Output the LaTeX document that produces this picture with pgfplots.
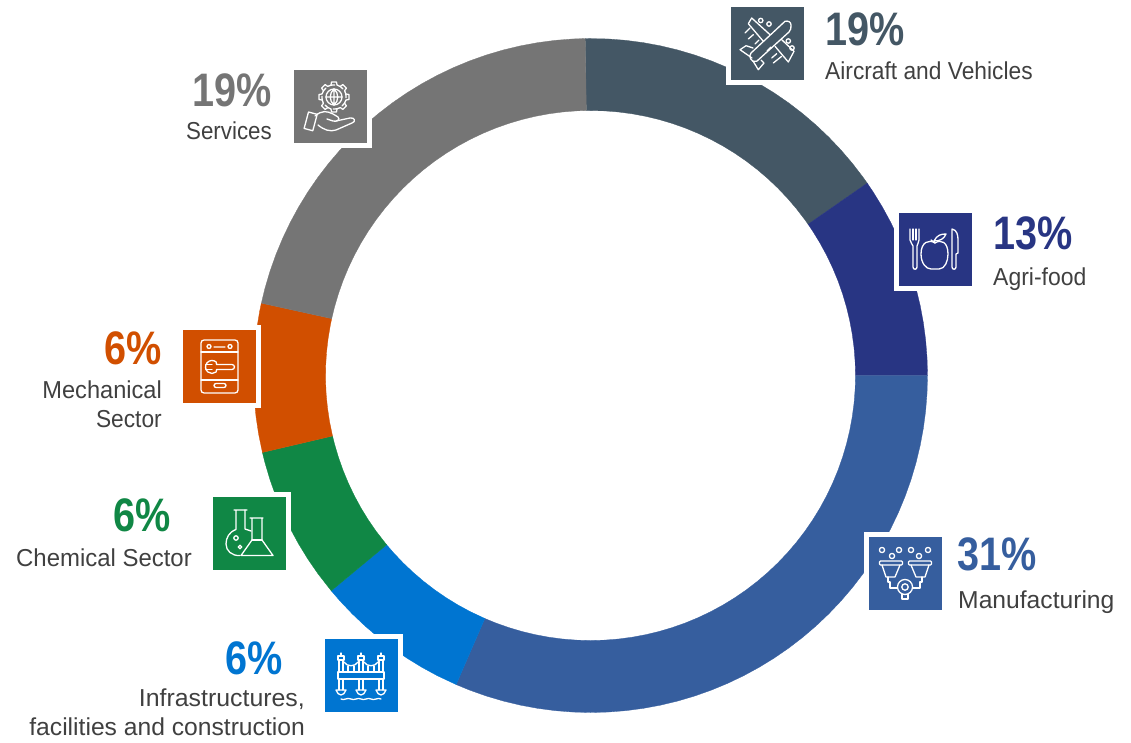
\documentclass[border=0pt]{standalone}
\usepackage{graphicx}
\usepackage{fontspec}
\setmainfont{Liberation Sans}[FakeStretch=0.86]
\usepackage{pgfplots}
\usepgfplotslibrary{polar}
\pgfplotsset{compat=1.18}
\definecolor{cAir}{HTML}{445765}
\definecolor{cAgr}{HTML}{283583}
\definecolor{cMan}{HTML}{365E9E}
\definecolor{cInf}{HTML}{0075D1}
\definecolor{cChe}{HTML}{108745}
\definecolor{cMec}{HTML}{D14F00}
\definecolor{cSer}{HTML}{757575}
\definecolor{cTxt}{HTML}{404040}
\newcommand{\pct}[5]{\node[anchor=#1,inner sep=0pt,text=#2,font=\fontsize{47}{50}\selectfont\bfseries] at (#3,#4) {\scalebox{0.98}[1]{#5}};}
\newcommand{\lab}[5]{\node[anchor=#1,inner sep=0pt,text=cTxt,font=\fontsize{24.5}{28}\selectfont] at (#2,#3) {\scalebox{#5}[1]{#4}};}
\newcommand{\icon}[4]{%
  \fill[white] (#1-5,#2-5) rectangle (#1+78,#2+78);
  \fill[#3] (#1,#2) rectangle (#1+73,#2+73);
  \begin{scope}[shift={(#1,#2)},draw=white,line width=1.3pt,line cap=round,line join=round]#4\end{scope}}
\begin{document}
\begin{tikzpicture}[x=1pt,y=1pt]
\useasboundingbox (0,0) rectangle (1131,742);
\begin{polaraxis}[at={(590.5pt,366.5pt)},anchor=center,scale only axis,width=674pt,height=674pt,
  xmin=0,xmax=360,ymin=0,ymax=337,hide axis,clip=false]
\addplot[fill=cAir,draw=cAir,line width=.3pt] coordinates {(90.9,337)(87,337)(84,337)(81,337)(78,337)(75,337)(72,337)(69,337)(66,337)(63,337)(60,337)(57,337)(54,337)(51,337)(48,337)(45,337)(42,337)(39,337)(36,337)(34.8,337)
(34.8,265)(36,265)(39,265)(42,265)(45,265)(48,265)(51,265)(54,265)(57,265)(60,265)(63,265)(66,265)(69,265)(72,265)(75,265)(78,265)(81,265)(84,265)(87,265)(90.9,265)} --cycle;
\addplot[fill=cAgr,draw=cAgr,line width=.3pt] coordinates {(34.8,337)(33,337)(30,337)(27,337)(24,337)(21,337)(18,337)(15,337)(12,337)(9,337)(6,337)(3,337)(0,337)
(0,265)(3,265)(6,265)(9,265)(12,265)(15,265)(18,265)(21,265)(24,265)(27,265)(30,265)(33,265)(34.8,265)} --cycle;
\addplot[fill=cMan,draw=cMan,line width=.3pt] coordinates {(360,337)(357,337)(354,337)(351,337)(348,337)(345,337)(342,337)(339,337)(336,337)(333,337)(330,337)(327,337)(324,337)(321,337)(318,337)(315,337)(312,337)(309,337)(306,337)(303,337)(300,337)(297,337)(294,337)(291,337)(288,337)(285,337)(282,337)(279,337)(276,337)(273,337)(270,337)(267,337)(264,337)(261,337)(258,337)(255,337)(252,337)(249,337)(246.5,337)
(246.5,265)(249,265)(252,265)(255,265)(258,265)(261,265)(264,265)(267,265)(270,265)(273,265)(276,265)(279,265)(282,265)(285,265)(288,265)(291,265)(294,265)(297,265)(300,265)(303,265)(306,265)(309,265)(312,265)(315,265)(318,265)(321,265)(324,265)(327,265)(330,265)(333,265)(336,265)(339,265)(342,265)(345,265)(348,265)(351,265)(354,265)(357,265)(360,265)} --cycle;
\addplot[fill=cInf,draw=cInf,line width=.3pt] coordinates {(246.5,337)(243,337)(240,337)(237,337)(234,337)(231,337)(228,337)(225,337)(222,337)(219.7,337)
(219.7,265)(222,265)(225,265)(228,265)(231,265)(234,265)(237,265)(240,265)(243,265)(246.5,265)} --cycle;
\addplot[fill=cChe,draw=cChe,line width=.3pt] coordinates {(219.7,337)(216,337)(213,337)(210,337)(207,337)(204,337)(201,337)(198,337)(195,337)(193.2,337)
(193.2,265)(195,265)(198,265)(201,265)(204,265)(207,265)(210,265)(213,265)(216,265)(219.7,265)} --cycle;
\addplot[fill=cMec,draw=cMec,line width=.3pt] coordinates {(193.2,337)(190,337)(187,337)(184,337)(181,337)(178,337)(175,337)(172,337)(169,337)(167.6,337)
(167.6,265)(169,265)(172,265)(175,265)(178,265)(181,265)(184,265)(187,265)(190,265)(193.2,265)} --cycle;
\addplot[fill=cSer,draw=cSer,line width=.3pt] coordinates {(167.6,337)(165,337)(162,337)(159,337)(156,337)(153,337)(150,337)(147,337)(144,337)(141,337)(138,337)(135,337)(132,337)(129,337)(126,337)(123,337)(120,337)(117,337)(114,337)(111,337)(108,337)(105,337)(102,337)(99,337)(96,337)(93,337)(90.9,337)
(90.9,265)(93,265)(96,265)(99,265)(102,265)(105,265)(108,265)(111,265)(114,265)(117,265)(120,265)(123,265)(126,265)(129,265)(132,265)(135,265)(138,265)(141,265)(144,265)(147,265)(150,265)(153,265)(156,265)(159,265)(162,265)(165,265)(167.6,265)} --cycle;
\end{polaraxis}
\begin{scope}[shift={(0,742)},y=-1pt]
% ---------- Aircraft
\icon{731}{7}{cAir}{%
  \draw (54,14.3) .. controls (57,13.5) and (60,15) .. (60,18) .. controls (60,21) and (60,23) .. (58,25) -- (25.7,54.3) .. controls (23,55) and (20,54) .. (19.7,52) .. controls (18.5,50) and (18.5,48) .. (20,46) -- cycle;
  \draw (39,27.7) -- (20.7,11) -- (17.3,16.7) -- (32.3,34.3);
  \draw (50.7,32.7) -- (63,44.3) -- (57.3,55) -- (44,39.3);
  \draw (22,41) -- (15,38.7) -- (9,42.7) -- (21,51);
  \draw (30,53) -- (33,56) -- (27.3,62.7) -- (22,54);
  \draw (29.7,13.5) circle (2.2) (38,17) circle (2.2) (57.3,34) circle (2.2) (61,41) circle (2.2);
  \draw (14,26) -- (19,21) (17.3,32) -- (22.3,27.7) (24,37) -- (28,33);
  \draw (40.7,51) -- (45.7,46.7) (42.3,56) -- (50.7,49.3) (36,44) -- (40,40);}
\pct{base west}{cAir}{825}{46}{19\%}
\lab{base west}{825}{80}{Aircraft and Vehicles}{1.08}
% ---------- Agri-food
\icon{899}{213}{cAgr}{%
  \draw (11,16) -- (11,27) .. controls (11,30) and (14,31) .. (14,33) -- (14,54) .. controls (14,57) and (18,57) .. (18,54) -- (18,33) .. controls (18,31) and (20,30) .. (20,27) -- (20,16);
  \draw (14,16) -- (14,27) (17,16) -- (17,27);
  \draw (36,30) .. controls (30,26) and (22,29) .. (22,41) .. controls (22,50) and (27,56) .. (32,56) .. controls (34,56) and (38,56) .. (40,56) .. controls (46,56) and (49,48) .. (49,41) .. controls (49,29) and (42,26) .. (36,30);
  \draw (32,27) -- (36,30) (35,28) .. controls (38,22) and (42,21) .. (47,21) .. controls (45,26) and (41,28) .. (35,28);
  \draw (53,16) .. controls (58,17) and (59,22) .. (59,27) -- (59,40) -- (57,41) -- (57,54) .. controls (57,57) and (53,57) .. (53,54) -- cycle;}
\pct{base west}{cAgr}{993}{250}{13\%}
\lab{base west}{993}{286}{Agri-food}{1.09}
% ---------- Manufacturing
\icon{869}{537}{cMan}{%
  \foreach \a/\b in {13/13,30/13,42/13,59/13,23/19,50/19} {\draw (\a,\b) circle (2.6);}
  \draw[rounded corners=1pt] (10.5,24) rectangle (33.5,28) (39.5,24) rectangle (62.5,28);
  \draw (13,28) -- (17,40) -- (26,40) -- (31,28) (42,28) -- (47,40) -- (56,40) -- (60,28);
  \draw (19,40) -- (19,45) -- (21,45) -- (21,51) -- (28,51);
  \draw (53,40) -- (53,45) -- (51,45) -- (51,51) -- (44,51);
  \draw (36,50) circle (7.5) (36,50) circle (3.2);
  \draw (33,57) -- (33,62) -- (39,62) -- (39,57);}
\pct{base west}{cMan}{957}{570}{31\%}
\lab{base west}{958}{608}{Manufacturing}{1.17}
% ---------- Infrastructure
\icon{325}{639}{cInf}{%
  \foreach \a in {16,36,56} {\draw (\a,14) -- (\a,17); \draw (\a-3,17) rectangle (\a+3,21);
     \draw (\a-2,21) -- (\a-2,33) (\a+2,21) -- (\a+2,33) (\a-2,40) -- (\a-2,51) (\a+2,40) -- (\a+2,51);
     \draw (\a-5,51) -- (\a+5,51) .. controls (\a+4,54) and (\a+2,56) .. (\a,56) .. controls (\a-2,56) and (\a-4,54) .. (\a-5,51);}
  \draw (13,33) rectangle (59,40);
  \draw (19,23) .. controls (22,28) and (30,28) .. (33,23) (39,23) .. controls (42,28) and (50,28) .. (53,23);
  \draw (23,27) -- (23,33) (29,27) -- (29,33) (43,27) -- (43,33) (49,27) -- (49,33);
  \draw (16,60) .. controls (19,62) and (22,58) .. (26,60) .. controls (29,62) and (33,58) .. (36,60) .. controls (39,62) and (43,58) .. (46,60) .. controls (49,62) and (53,58) .. (56,60);}
\pct{base east}{cInf}{283}{674}{6\%}
\lab{base east}{305}{706}{Infrastructures,}{1.18}
\lab{base east}{305}{735}{facilities and construction}{1.17}
% ---------- Chemical
\icon{213}{497}{cChe}{%
  \draw (21,13) -- (34,13) (23,13) -- (23,32.5) .. controls (16,35) and (13,41) .. (13,47) .. controls (13,54) and (19,59) .. (27,58.5);
  \draw (32,13) -- (32,32) -- (38,34);
  \draw (37,21) -- (50,21) (39,21) -- (39,43) -- (28,58.5) -- (60,58.5) -- (49,43) -- (49,21);
  \draw (39,43) -- (49,43);
  \draw (23,41) circle (2.2) (27,50) circle (1.8);}
\pct{base east}{cChe}{171}{531}{6\%}
\lab{base east}{192}{566.5}{Chemical Sector}{1.136}
% ---------- Mechanical
\icon{183}{330}{cMec}{%
  \draw[rounded corners=3pt] (18,10) rectangle (55,63);
  \draw (18,22) -- (55,22) (18,50) -- (55,50);
  \draw (26,16.5) circle (2) (47,16.5) circle (2) (31,17) -- (42,17);
  \draw (22.8,34.5) -- (29,34.5) (22.8,39.5) -- (29,39.5);
  \draw (33.2,32) arc (-50:-310:6.5) -- (33.5,39.5) -- (49,39.5) arc (90:-90:2.5) -- (33.5,34.5) -- cycle;
  \draw[rounded corners=2pt] (31,53.5) rectangle (43,57.5);}
\pct{base east}{cMec}{162}{365}{6\%}
\lab{base east}{162}{399}{Mechanical}{1.12}
\lab{base east}{162}{427}{Sector}{1.08}
% ---------- Services
\icon{294}{70}{cSer}{%
  \draw (40,27) circle (8);
  \draw (32,27) -- (48,27) (40,19) -- (40,35) (40,19) .. controls (35,23) and (35,31) .. (40,35) (40,19) .. controls (45,23) and (45,31) .. (40,35);
  \foreach \r in {0,45,...,315} {\draw[rotate around={\r:(40,27)}] (37,15) -- (37.5,12) -- (42.5,12) -- (43,15) .. controls (46,16) and (47,17) .. (49,19);}
  \draw[rotate around={-15:(17,52)}] (12,43) rectangle (21,60);
  \draw (21,46) .. controls (28,40) and (33,41) .. (39,44) -- (44,47) .. controls (47,50) and (42,52) .. (39,51) -- (33,49);
  \draw (42,51) -- (56,48) .. controls (61,47) and (62,52) .. (58,53) -- (42,60) .. controls (36,62) and (30,60) .. (24,55);}
\pct{base east}{cSer}{272}{107}{19\%}
\lab{base east}{272}{139.5}{Services}{1.06}
\end{scope}
\end{tikzpicture}
\end{document}
